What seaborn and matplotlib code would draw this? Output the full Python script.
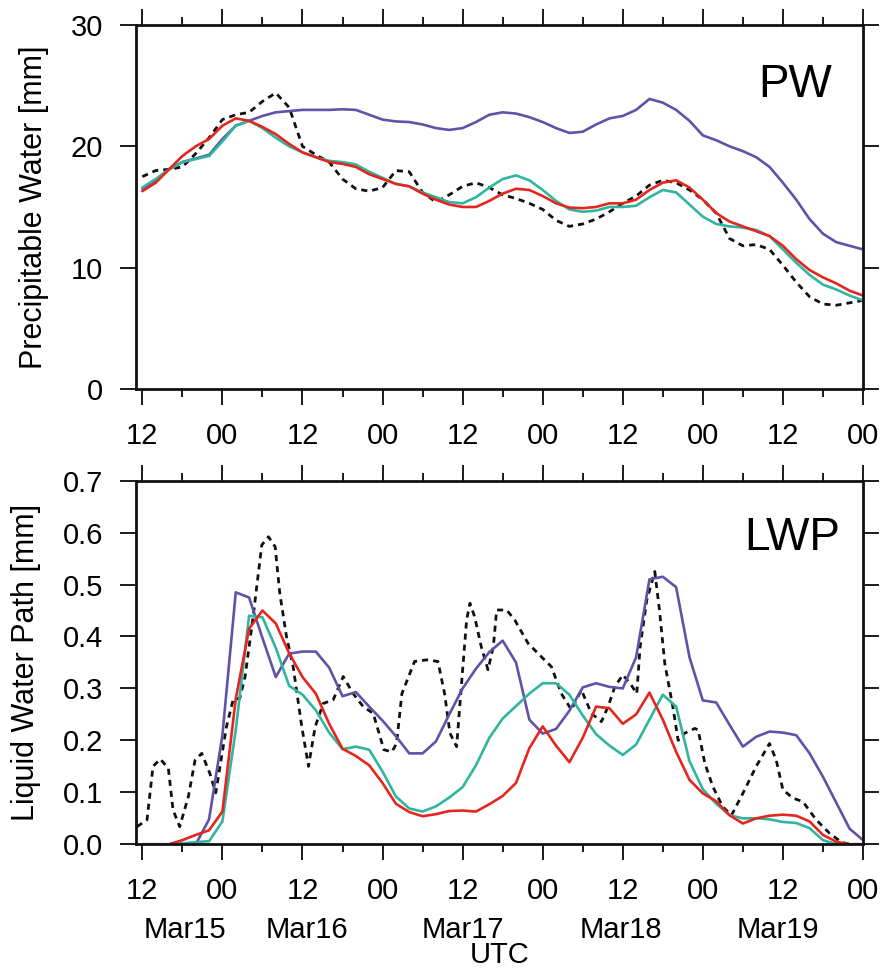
import numpy as np
import pandas as pd
import matplotlib
matplotlib.use('Agg')
import matplotlib.pyplot as plt
import matplotlib.transforms as mtransforms
import seaborn as sns

# ==============================================================================
# DATA (hours since Mar14 12 UTC)
# ==============================================================================
HOURS = list(range(0, 109, 2))

PW_PURPLE = [16.5, 17.2, 18.1, 18.7, 19.0, 19.3, 20.6, 21.7, 22.1, 22.5,
             22.8, 22.9, 23.0, 23.0, 23.0, 23.05, 23.0, 22.6, 22.2, 22.05,
             22.0, 21.8, 21.5, 21.35, 21.5, 22.0, 22.6, 22.8, 22.7, 22.4,
             22.0, 21.5, 21.1, 21.2, 21.8, 22.3, 22.5, 23.0, 23.9, 23.6,
             23.0, 22.1, 20.9, 20.5, 20.0, 19.6, 19.1, 18.3, 17.0, 15.6,
             14.0, 12.8, 12.1, 11.8, 11.5]
PW_RED = [16.3, 17.0, 18.1, 19.2, 20.0, 20.6, 21.7, 22.3, 22.1, 21.6,
          21.0, 20.2, 19.5, 19.1, 18.7, 18.55, 18.3, 17.7, 17.3, 16.9,
          16.7, 16.1, 15.6, 15.2, 15.0, 15.0, 15.5, 16.1, 16.5, 16.4,
          15.9, 15.3, 14.95, 14.9, 15.0, 15.3, 15.3, 15.6, 16.4, 17.0,
          17.2, 16.6, 15.6, 14.5, 13.8, 13.4, 13.0, 12.6, 11.8, 10.7,
          9.8, 9.2, 8.7, 8.1, 7.7]
PW_TEAL = [16.6, 17.3, 18.1, 18.7, 18.95, 19.2, 20.4, 21.7, 22.1, 21.5,
           20.7, 20.0, 19.5, 19.1, 18.8, 18.7, 18.5, 17.9, 17.4, 16.9,
           16.7, 16.2, 15.8, 15.4, 15.3, 15.8, 16.6, 17.3, 17.6, 17.2,
           16.4, 15.5, 14.8, 14.6, 14.7, 15.0, 15.0, 15.1, 15.8, 16.4,
           16.2, 15.2, 14.2, 13.6, 13.4, 13.3, 13.1, 12.6, 11.5, 10.4,
           9.4, 8.6, 8.2, 7.7, 7.3]
PW_OBS = [17.5, 18.0, 18.1, 18.3, 19.4, 20.7, 22.2, 22.6, 22.8, 23.7,
          24.4, 23.2, 20.0, 19.3, 18.7, 17.3, 16.5, 16.3, 16.6, 18.0,
          17.9, 16.2, 15.4, 16.0, 16.7, 17.0, 16.6, 16.0, 15.7, 15.3,
          14.8, 13.9, 13.4, 13.6, 14.0, 14.6, 15.3, 15.9, 16.8, 17.2,
          17.0, 16.4, 15.6, 14.5, 12.4, 11.8, 11.9, 11.5, 10.2, 8.8,
          7.6, 7.0, 6.9, 7.1, 7.3]

LWP_PURPLE = [0.0, 0.0, 0.0, 0.0, 0.0, 0.048, 0.21, 0.485, 0.475, 0.397,
              0.322, 0.367, 0.371, 0.371, 0.34, 0.285, 0.293, 0.265, 0.238, 0.208,
              0.175, 0.175, 0.198, 0.25, 0.30, 0.338, 0.37, 0.392, 0.35, 0.24,
              0.213, 0.222, 0.257, 0.302, 0.31, 0.303, 0.30, 0.36, 0.51, 0.515,
              0.495, 0.36, 0.277, 0.273, 0.23, 0.188, 0.207, 0.217, 0.215, 0.21,
              0.175, 0.13, 0.08, 0.03, 0.008]
LWP_RED = [0.0, 0.0, 0.0, 0.008, 0.018, 0.027, 0.063, 0.28, 0.415, 0.45,
           0.425, 0.368, 0.322, 0.29, 0.232, 0.184, 0.17, 0.152, 0.118, 0.078,
           0.062, 0.054, 0.058, 0.064, 0.065, 0.063, 0.077, 0.093, 0.118, 0.185,
           0.227, 0.19, 0.158, 0.205, 0.265, 0.262, 0.232, 0.25, 0.292, 0.24,
           0.178, 0.124, 0.098, 0.083, 0.056, 0.04, 0.05, 0.055, 0.057, 0.055,
           0.044, 0.018, 0.005, 0.0, 0.0]
LWP_TEAL = [0.0, 0.0, 0.0, 0.002, 0.004, 0.006, 0.044, 0.22, 0.44, 0.437,
            0.378, 0.305, 0.288, 0.258, 0.215, 0.183, 0.188, 0.182, 0.14, 0.092,
            0.069, 0.063, 0.073, 0.09, 0.11, 0.152, 0.205, 0.242, 0.266, 0.29,
            0.31, 0.31, 0.288, 0.248, 0.212, 0.19, 0.172, 0.192, 0.24, 0.288,
            0.265, 0.16, 0.106, 0.078, 0.056, 0.05, 0.05, 0.048, 0.043, 0.041,
            0.031, 0.008, 0.0, 0.0, 0.0]

# observations are spikier, so they keep their own time stamps
OBS_HOURS = [-0.8, 0.7, 1.6, 2.7, 3.9, 4.6, 5.6, 6.9, 7.9, 8.9,
             10.1, 11.0, 12.6, 13.6, 14.6, 15.4, 16.6, 17.9, 18.9, 19.9,
             20.6, 21.6, 22.6, 23.9, 24.9, 25.9, 27.1, 28.6, 30.1, 31.6,
             33.1, 34.6, 36.2, 37.4, 38.1, 38.9, 40.8, 42.6, 44.3, 45.3,
             46.1, 47.1, 47.8, 48.6, 49.1, 49.8, 50.8, 51.8, 52.6, 53.1,
             54.6, 55.8, 57.8, 59.8, 61.3, 62.8, 64.3, 65.8, 67.3, 68.8,
             69.8, 70.8, 72.0, 73.1, 74.1, 74.6, 75.6, 76.8, 77.5, 78.3,
             79.5, 80.3, 81.3, 82.8, 83.3, 84.3, 85.5, 87.0, 88.3, 90.0,
             92.0, 94.0, 95.0, 96.0, 97.5, 99.0, 101.0, 103.0, 104.8, 106.0,
             108.0]
LWP_OBS = [0.034, 0.047, 0.15, 0.164, 0.146, 0.066, 0.034, 0.092, 0.162, 0.175,
           0.137, 0.099, 0.226, 0.278, 0.281, 0.323, 0.438, 0.576, 0.592, 0.573,
           0.483, 0.40, 0.342, 0.226, 0.15, 0.226, 0.271, 0.278, 0.323, 0.29,
           0.265, 0.252, 0.182, 0.178, 0.194, 0.29, 0.352, 0.355, 0.352, 0.29,
           0.214, 0.188, 0.303, 0.432, 0.464, 0.438, 0.38, 0.336, 0.38, 0.451,
           0.451, 0.432, 0.387, 0.361, 0.342, 0.29, 0.259, 0.297, 0.252, 0.236,
           0.265, 0.303, 0.326, 0.31, 0.29, 0.38, 0.47, 0.525, 0.451, 0.348,
           0.265, 0.20, 0.214, 0.223, 0.22, 0.156, 0.111, 0.072, 0.056, 0.098,
           0.15, 0.194, 0.162, 0.105, 0.089, 0.082, 0.047, 0.021, 0.004, 0.0,
           0.0]

XTICK_LABELS = ['12', '00', '12', '00', '12', '00', '12', '00', '12', '00']
DATE_LABELS = ['Mar15', 'Mar16', 'Mar17', 'Mar18', 'Mar19']
DATE_POS = [6.4, 24.7, 48.0, 71.8, 95.2]

C_PURPLE = '#6152a8'
C_RED = '#e5261f'
C_TEAL = '#2fb5a0'

# ==============================================================================
# PLOT
# ==============================================================================
sns.set_style('ticks')
plt.rcParams['font.family'] = ['Liberation Sans', 'DejaVu Sans']
plt.rcParams['text.color'] = 'black'
plt.rcParams['axes.labelcolor'] = 'black'
plt.rcParams['xtick.color'] = 'black'
plt.rcParams['ytick.color'] = 'black'

fig = plt.figure(figsize=(8.85, 9.71), dpi=100)
ax_pw = fig.add_axes([0.1533, 0.5994, 0.8218, 0.3749])
ax_lwp = fig.add_axes([0.1533, 0.1305, 0.8218, 0.3745])

lw = 1.9
obs_ls = (0, (2.2, 1.8))

for ax, purple, red, teal, obs_x, obs_y in [
        (ax_pw, PW_PURPLE, PW_RED, PW_TEAL, HOURS, PW_OBS),
        (ax_lwp, LWP_PURPLE, LWP_RED, LWP_TEAL, OBS_HOURS, LWP_OBS)]:
    sns.lineplot(x=obs_x, y=obs_y, ax=ax, color='#111111', lw=2.0, linestyle=obs_ls, sort=False)
    sns.lineplot(x=HOURS, y=purple, ax=ax, color=C_PURPLE, lw=lw, sort=False)
    sns.lineplot(x=HOURS, y=teal, ax=ax, color=C_TEAL, lw=lw, sort=False)
    sns.lineplot(x=HOURS, y=red, ax=ax, color=C_RED, lw=lw, sort=False)

    ax.set_xlim(-1, 108)
    ax.set_xticks(range(0, 109, 12))
    ax.set_xticklabels(XTICK_LABELS)
    ax.set_xticks(range(6, 109, 12), minor=True)
    ax.tick_params(which='major', direction='out', length=11.5, width=1.4,
                   labelsize=21, pad=12, top=True, right=True,
                   color='#1a1a1a', labelcolor='black')
    ax.tick_params(axis='x', which='minor', direction='out', length=6, width=1.4,
                   top=True, color='#1a1a1a')
    for s in ax.spines.values():
        s.set_linewidth(2.0)
        s.set_color('#111111')

ax_pw.set_ylim(0, 30)
ax_pw.set_yticks([0, 10, 20, 30])
ax_pw.set_ylabel('Precipitable Water [mm]', fontsize=22)
ax_pw.yaxis.set_label_coords(-0.1192, 0.5)
ax_pw.text(0.9574, 0.802, 'PW', transform=ax_pw.transAxes, ha='right', va='baseline', fontsize=33)

ax_lwp.set_ylim(0, 0.7)
ax_lwp.set_yticks(np.arange(0, 0.71, 0.1))
ax_lwp.set_yticklabels([f'{v:.1f}' for v in np.arange(0, 0.71, 0.1)])
ax_lwp.set_ylabel('Liquid Water Path [mm]', fontsize=22)
ax_lwp.yaxis.set_label_coords(-0.1295, 0.5)
ax_lwp.text(0.9684, 0.809, 'LWP', transform=ax_lwp.transAxes, ha='right', va='baseline', fontsize=33)

trans = mtransforms.blended_transform_factory(ax_lwp.transData, ax_lwp.transAxes)
for lab, pos in zip(DATE_LABELS, DATE_POS):
    ax_lwp.text(pos, -0.2577, lab, transform=trans, ha='center', va='baseline', fontsize=21)
ax_lwp.text(53.6, -0.343, 'UTC', transform=trans, ha='center', va='bottom', fontsize=21)

fig.savefig('out.png', dpi=100)
